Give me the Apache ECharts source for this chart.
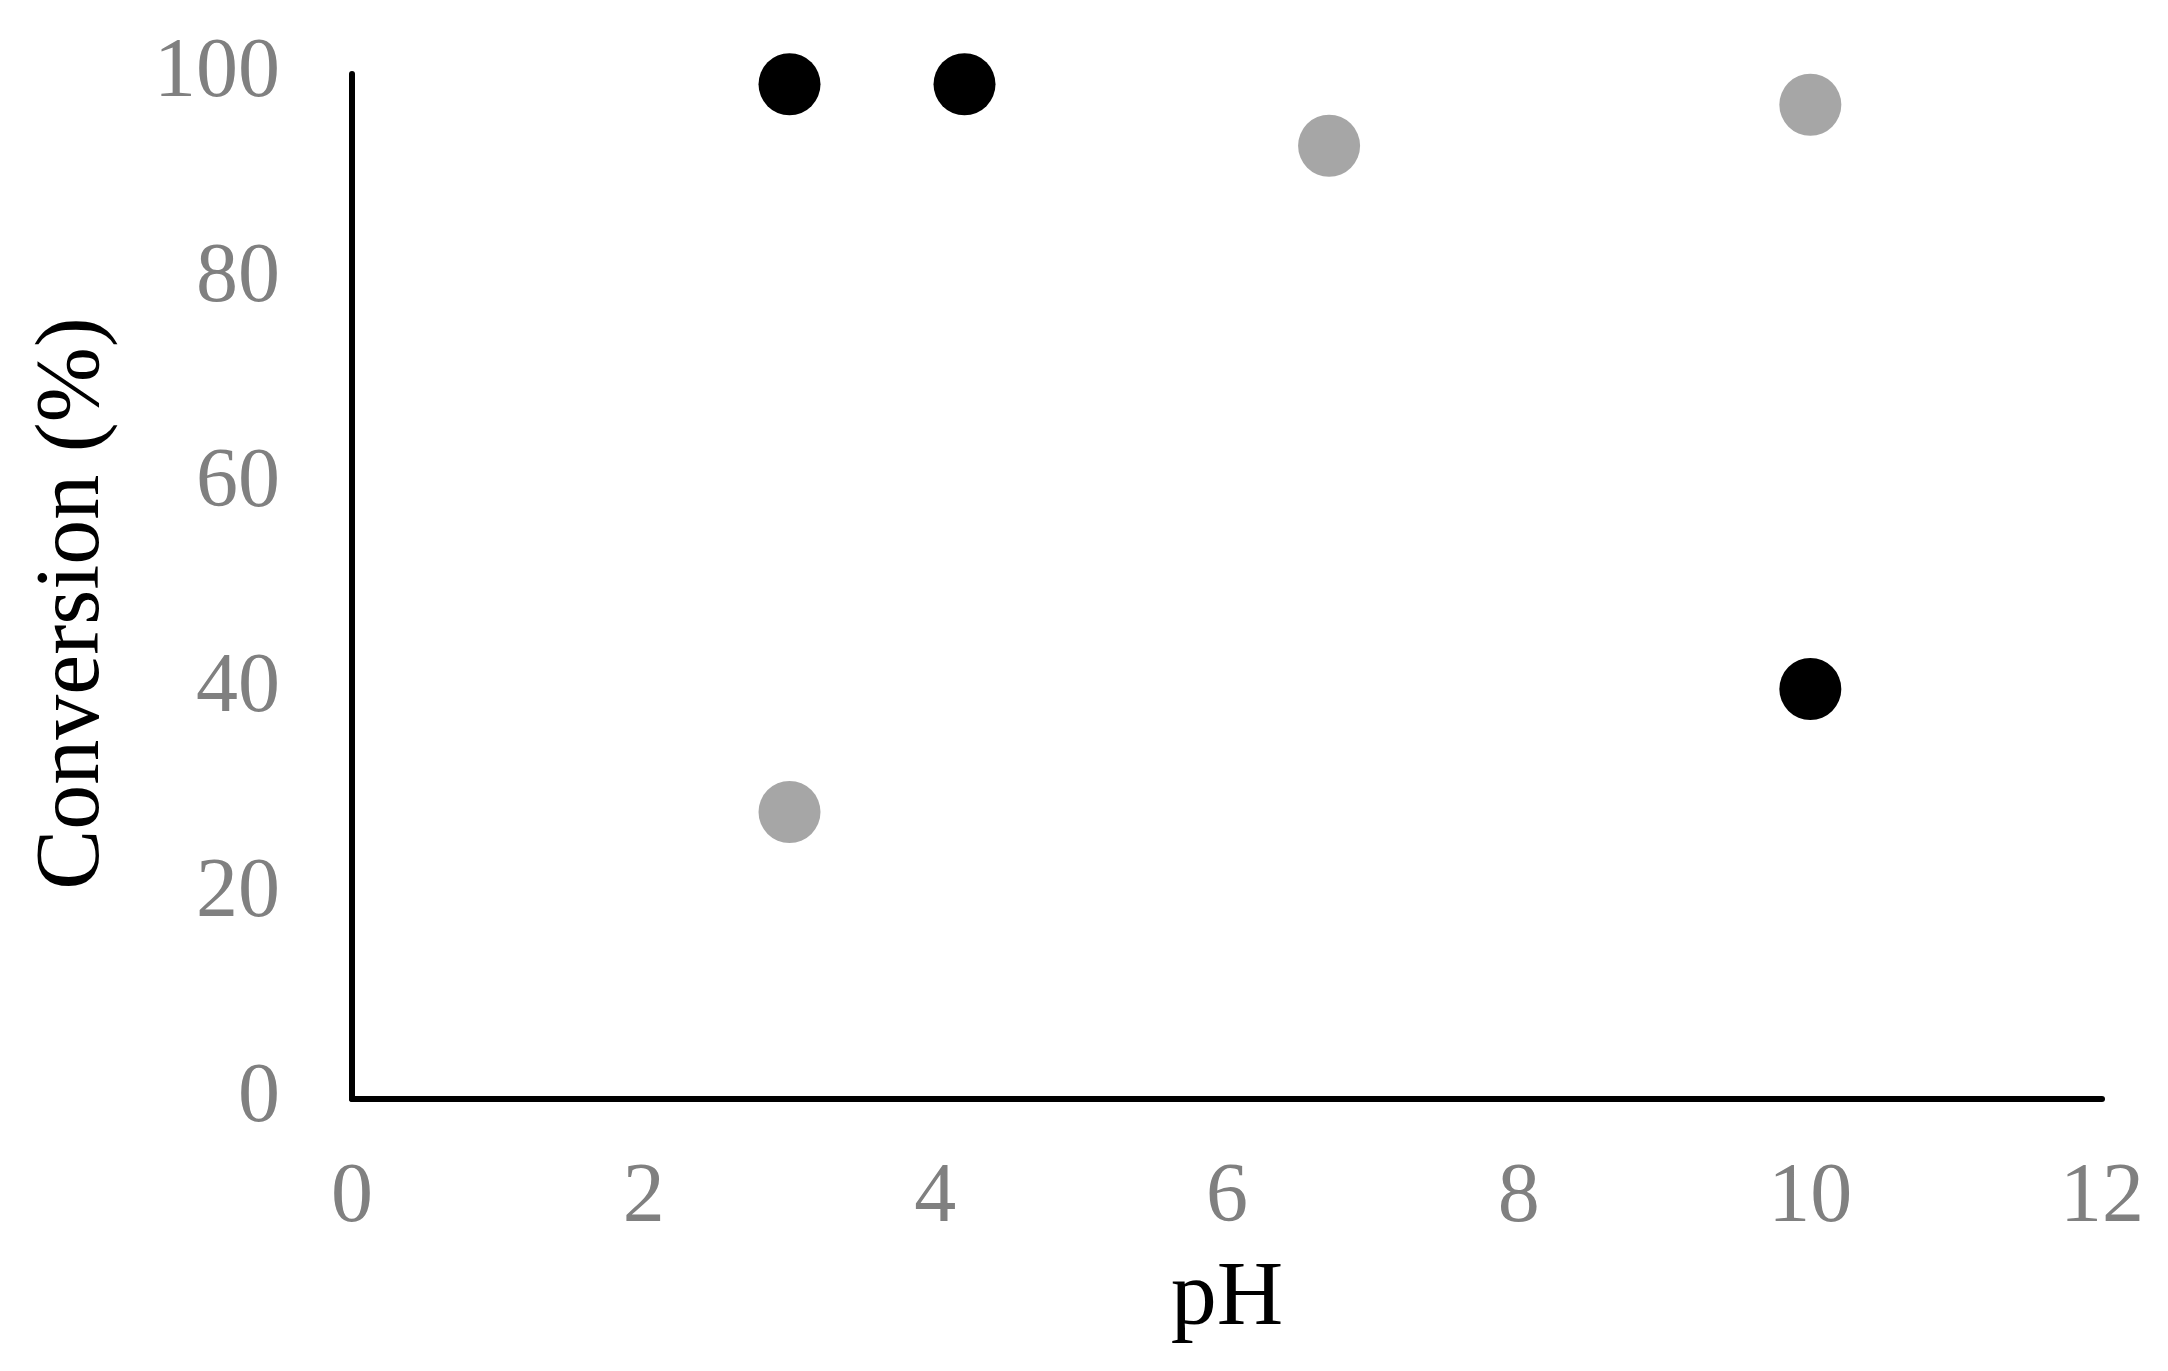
<!DOCTYPE html>
<html>
<head>
<meta charset="utf-8">
<script src="https://cdn.jsdelivr.net/npm/echarts@6/dist/echarts.min.js"></script>
<style>html,body{margin:0;padding:0;background:#fff;}#chart{width:2168px;height:1371px;}</style>
</head>
<body>
<div id="chart"></div>
<script>
// Data
const blackPH = [3, 4.2, 10];
const blackConversion = [99, 99, 40];
const grayPH = [3, 6.7, 10];
const grayConversion = [28, 93, 97];
const xTicks = [0, 2, 4, 6, 8, 10, 12];
const yTicks = [0, 20, 40, 60, 80, 100];

const font = '"Liberation Serif", "DejaVu Serif", serif';
const chart = echarts.init(document.getElementById('chart'), null, {renderer: 'canvas'});
chart.setOption({
  backgroundColor: '#ffffff',
  animation: false,
  grid: {left: 352, right: 66, top: 74, bottom: 272, containLabel: false},
  xAxis: {
    type: 'value', min: xTicks[0], max: xTicks[xTicks.length - 1], interval: 2,
    name: 'pH', nameLocation: 'middle', nameGap: 155,
    nameTextStyle: {fontFamily: font, fontSize: 92, color: '#000000'},
    axisLine: {show: true, onZero: false, lineStyle: {color: '#000000', width: 6}},
    axisTick: {show: false},
    splitLine: {show: false},
    axisLabel: {fontFamily: font, fontSize: 84, color: '#808080', margin: 58}
  },
  yAxis: {
    type: 'value', min: yTicks[0], max: yTicks[yTicks.length - 1], interval: 20,
    name: 'Conversion (%)', nameLocation: 'middle', nameGap: 233,
    nameTextStyle: {fontFamily: font, fontSize: 90, color: '#000000', padding: [0, 34, 0, 0]},
    axisLine: {show: true, onZero: false, lineStyle: {color: '#000000', width: 6}},
    axisTick: {show: false},
    splitLine: {show: false},
    axisLabel: {fontFamily: font, fontSize: 84, color: '#808080', margin: 72}
  },
  series: [
    {
      type: 'scatter', name: 'black', symbol: 'circle', symbolSize: 62,
      itemStyle: {color: '#000000', opacity: 1},
      data: blackPH.map((x, i) => [x, blackConversion[i]])
    },
    {
      type: 'scatter', name: 'gray', symbol: 'circle', symbolSize: 62,
      itemStyle: {color: '#a6a6a6', opacity: 1},
      data: grayPH.map((x, i) => [x, grayConversion[i]])
    }
  ]
});
</script>
</body>
</html>
